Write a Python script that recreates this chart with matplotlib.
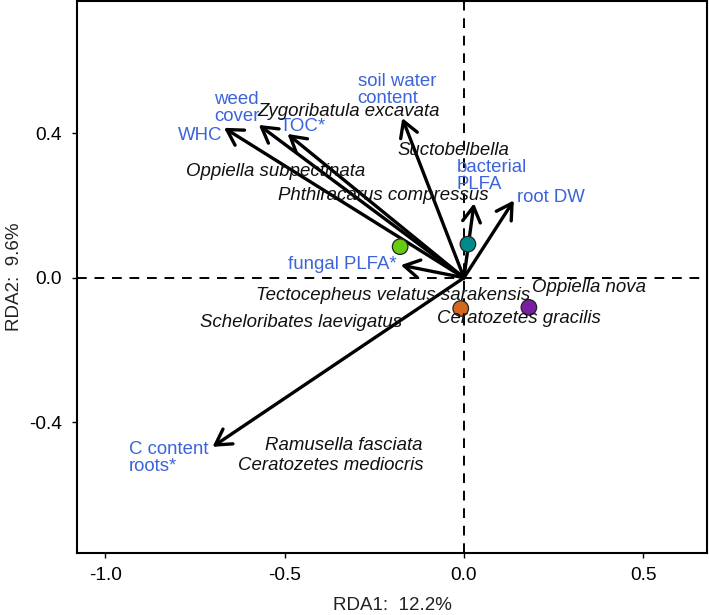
import numpy as np
import matplotlib.pyplot as plt

plt.rcParams['font.family'] = ['Liberation Sans', 'DejaVu Sans']

# environmental vectors (RDA biplot scores)
env_names = ['WHC', 'weed cover', 'TOC*', 'soil water content', 'bacterial PLFA',
             'root DW', 'fungal PLFA*', 'C content roots*']
env_x = [-0.669, -0.572, -0.492, -0.172, 0.028, 0.139, -0.176, -0.701]
env_y = [0.415, 0.423, 0.398, 0.442, 0.206, 0.214, 0.035, -0.468]

# label positions for the vectors
env_labels = ['WHC', 'weed\ncover', 'TOC*', 'soil water\ncontent', 'bacterial\nPLFA',
              'root DW', 'fungal PLFA*', 'C content\nroots*']
env_lab_x = [-0.736, -0.634, -0.449, -0.187, 0.077, 0.242, -0.338, -0.824]
env_lab_y = [0.395, 0.469, 0.419, 0.520, 0.281, 0.222, 0.037, -0.498]

# species scores
species = ['Zygoribatula excavata', 'Suctobelbella', 'Oppiella subpectinata',
           'Phthiracarus compressus', 'Tectocepheus velatus sarakensis',
           'Scheloribates laevigatus', 'Oppiella nova', 'Ceratozetes gracilis',
           'Ramusella fasciata', 'Ceratozetes mediocris']
sp_x = [-0.321, -0.030, -0.525, -0.224, -0.197, -0.453, 0.350, 0.152, -0.335, -0.371]
sp_y = [0.459, 0.352, 0.294, 0.229, -0.048, -0.124, -0.027, -0.112, -0.463, -0.519]

# treatment centroids
cent_x = [-0.178, 0.011, -0.009, 0.181]
cent_y = [0.086, 0.093, -0.085, -0.082]
cent_col = ['#66CC11', '#008B8B', '#D2691E', '#7A1FA2']

blue = '#3B63DB'

fig = plt.figure(figsize=(7.09, 6.15), dpi=100)
ax = fig.add_axes([76.7 / 709, 1 - 552.7 / 615, (707.5 - 76.7) / 709, (552.7 - 1) / 615])

ax.axhline(0, color='black', lw=1.4, ls=(0, (5, 4)), zorder=1)
ax.axvline(0, color='black', lw=1.4, ls=(0, (5, 4)), zorder=1)

for x, y in zip(env_x, env_y):
    ax.annotate('', xy=(x, y), xytext=(0, 0),
                arrowprops=dict(arrowstyle='->,head_length=0.55,head_width=0.32',
                                lw=2.4, color='black', shrinkA=0, shrinkB=0,
                                mutation_scale=20),
                zorder=3)

ax.scatter(cent_x, cent_y, s=125, c=cent_col, edgecolors='#222222', linewidths=0.9, zorder=4)

for lab, x, y in zip(env_labels, env_lab_x, env_lab_y):
    ax.text(x, y, lab, color=blue, fontsize=13.4, ha='center', va='center',
            multialignment='left', linespacing=1.0, zorder=5)

for lab, x, y in zip(species, sp_x, sp_y):
    ax.text(x, y, lab, color='#111111', fontsize=13.4, style='italic',
            ha='center', va='center', zorder=5)

ax.set_xlim(-1.0797, 0.679)
ax.set_ylim(-0.761, 0.766)
ax.set_xticks([-1.0, -0.5, 0.0, 0.5])
ax.set_xticklabels(['-1.0', '-0.5', '0.0', '0.5'])
ax.set_yticks([-0.4, 0.0, 0.4])
ax.set_yticklabels(['-0.4', '0.0', '0.4'])
ax.tick_params(axis='both', labelsize=13.8, width=1.0, length=3.5, pad=7)
for s in ax.spines.values():
    s.set_linewidth(1.5)

fig.text(392 / 709, 1 - 605 / 615, 'RDA1:  12.2%', ha='center', va='center', fontsize=13.5,
         color='#222222')
fig.text(15 / 709, 1 - 277 / 615, 'RDA2:  9.6%', ha='center', va='center', fontsize=13.5,
         rotation=90, color='#222222')

fig.savefig('out.png', dpi=100)
